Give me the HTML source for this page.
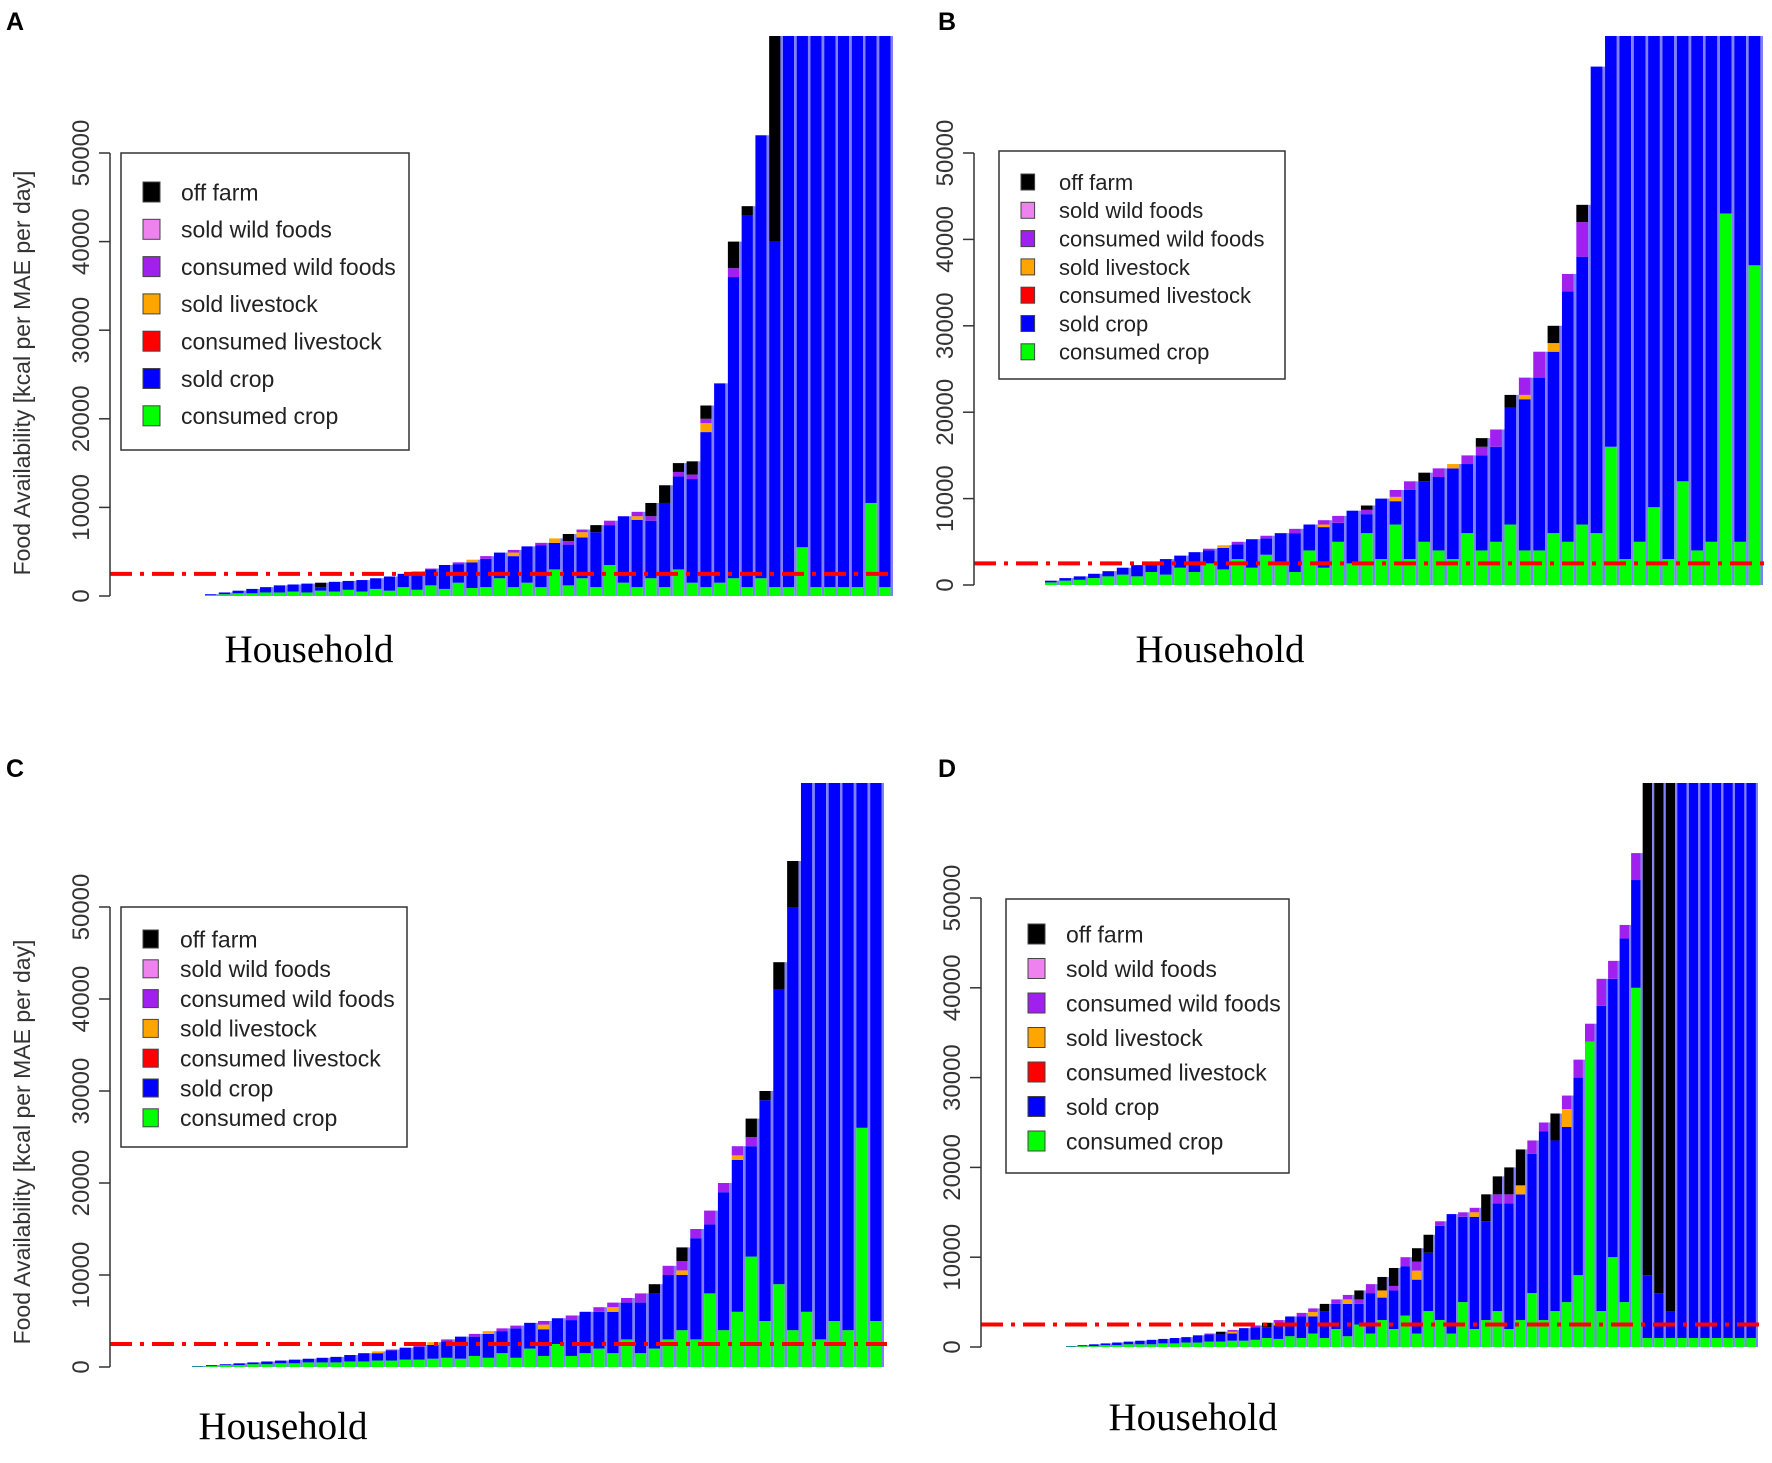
<!DOCTYPE html>
<html><head><meta charset="utf-8"><style>
html,body{margin:0;padding:0;background:#fff}
svg{display:block}
text{font-family:"Liberation Sans",sans-serif}
</style></head><body>
<svg id="fig" width="1772" height="1463" viewBox="0 0 1772 1463" xmlns="http://www.w3.org/2000/svg"></svg>
<script>
// ---- Data (kcal per MAE per day, in thousands), sorted households ----
const A_total=[0.2,0.4,0.6,0.8,1,1.2,1.3,1.4,1.5,1.6,1.7,1.8,2,2.2,2.5,2.8,3.1,3.5,3.8,4.1,4.5,4.9,5.2,5.6,6,6.5,7,7.5,8,8.5,9,9.5,10.5,12.5,15,15.2,21.5,24,40,44,52,70,70,70,70,70,70,70,70,70];
const A_green=[0.1,0.2,0.3,0.3,0.4,0.4,0.5,0.4,0.6,0.5,0.7,0.5,0.8,0.6,1,0.7,1.2,0.8,1.5,0.9,1,2,1,1.5,1,3,1.2,2,1,3.5,1.5,1,2,1,3,1.5,1,1.5,2,1,2,1,1,5.5,1,1,1,1,10.5,1];
const A_black=[0,0,0,0,0,0,0,0,0.5,0,0,0,0,0,0,0,0,0,0,0,0,0,0,0,0,0,0.8,0,0.8,0,0,0,1.5,2,1,1.5,1.5,0,3,1,0,30,0,0,0,0,0,0,0,0];
const A_purple=[0,0,0,0,0,0,0,0,0,0,0,0,0,0,0,0,0.1,0,0.2,0,0.3,0,0.3,0,0.3,0,0.4,0.3,0,0.5,0,0.5,0.5,0,0.5,0.5,0.5,0,1,0,0,0,0,0,0,0,0,0,0,0];
const A_orange=[0,0,0,0,0,0,0,0,0,0,0,0,0,0,0,0.2,0,0,0,0.3,0,0,0.4,0,0,0.5,0,0.6,0,0,0,0.4,0,0,0,0,1,0,0,0,0,0,0,0,0,0,0,0,0,0];

const B_total=[0.5,0.8,1,1.3,1.6,2,2.3,2.7,3,3.4,3.8,4.2,4.6,5,5.3,5.7,6,6.5,7,7.5,8,8.6,9.2,10,11,12,13,13.5,14,15,17,18,22,24,27,30,36,44,60,70,70,70,70,70,70,70,70,70,70,70];
const B_green=[0.3,0.5,0.6,0.8,1,1.2,1,1.5,1.2,2,1.5,2.5,1.8,3,2,3.5,2.5,1.5,4,2,5,2.5,6,3,7,3,5,4,3,6,4,5,7,4,4,6,5,7,6,16,3,5,9,3,12,4,5,43,5,37];
const B_black=[0,0,0,0,0,0,0,0,0,0,0,0,0,0,0,0,0,0,0,0,0,0,0.5,0,0,0,1,0,0,0,1,0,1.5,0,0,2,0,2,0,0,0,0,0,0,0,0,0,0,0,0];
const B_purple=[0,0,0,0,0,0,0,0,0,0,0,0.2,0,0.3,0,0.3,0,0.5,0,0.5,0.8,0,0.5,0,0.8,1,0,1,0,1,1,2,0,2,3,0,2,4,0,0,0,0,0,0,0,0,0,0,0,0];
const B_orange=[0,0,0,0,0,0,0,0,0,0,0,0,0.3,0,0,0,0,0,0,0.3,0,0,0,0,0.5,0,0,0,0.5,0,0,0,0,0.5,0,1,0,0,0,0,0,0,0,0,0,0,0,0,0,0];

const C_total=[0.1,0.2,0.3,0.4,0.5,0.6,0.7,0.8,0.9,1,1.1,1.3,1.5,1.7,1.9,2.1,2.4,2.7,3,3.3,3.6,3.9,4.2,4.5,4.8,5,5.3,5.6,6,6.5,7,7.5,8,9,11,13,15,17,20,24,27,30,44,55,70,70,70,70,70,70];
const C_green=[0.05,0.1,0.2,0.2,0.3,0.3,0.4,0.4,0.5,0.5,0.5,0.6,0.6,0.7,0.7,0.8,0.8,0.9,1,0.9,1.2,1,1.5,1,2,1.2,2.5,1.2,1.5,2,1.5,3,1.5,2,3,4,3,8,4,6,12,5,9,4,6,3,5,4,26,5];
const C_black=[0,0,0,0,0,0,0,0,0,0,0,0,0,0,0,0,0,0,0,0,0,0,0,0,0,0,0,0,0,0,0,0,0,1,0,1.5,0,0,0,0,2,1,3,5,0,0,0,0,0,0];
const C_purple=[0,0,0,0,0,0,0,0,0,0,0,0,0,0,0.1,0,0.2,0,0.2,0,0.3,0,0.3,0.3,0,0.4,0,0.5,0,0.5,0.5,0.5,1,0,1,1,1,1.5,1,1,1,0,0,0,0,0,0,0,0,0];
const C_orange=[0,0,0,0,0,0,0,0,0,0,0,0,0,0.2,0,0,0,0.3,0,0,0,0.3,0,0,0,0.5,0,0,0,0,0.5,0,0,0,0,0.5,0,0,0,0.5,0,0,0,0,0,0,0,0,0,0];

const D_total=[0.1,0.2,0.3,0.4,0.5,0.6,0.7,0.8,0.9,1,1.1,1.3,1.5,1.7,1.9,2.1,2.4,2.7,3,3.4,3.8,4.3,4.8,5.3,5.8,6.3,7,7.8,8.8,10,11,12.5,14,14.8,15,15.5,17,19,20,22,23,25,26,28,32,36,41,43,47,55];
const D_green=[0.05,0.1,0.1,0.2,0.2,0.3,0.3,0.3,0.4,0.4,0.5,0.5,0.6,0.6,0.7,0.7,0.8,1,0.9,1.2,1,1.5,1,2,1.2,2.5,1.5,3,2,3.5,1.5,4,3,1.5,5,2,3,4,2,3,6,3,4,5,8,34,4,10,5,40];
const D_black=[0,0,0,0,0,0,0,0,0,0,0,0,0,0.3,0,0,0,0.5,0,0,0,0,0.8,0,0,1,0,1.5,2,0,1.5,2,0,0,0,0,3,2,3,4,0,0,3,0,0,0,0,0,0,0];
const D_purple=[0,0,0,0,0,0,0,0,0,0,0,0,0.1,0,0.2,0,0.2,0,0.3,0,0.4,0.4,0,0.5,0.5,0.5,1,0,0.5,1,1,0,0.5,0,0.5,0.5,0,1,1,0,1.5,1,0,1.5,2,2,3,2,1.5,3];
const D_orange=[0,0,0,0,0,0,0,0,0,0,0,0,0,0,0.2,0,0,0,0.3,0,0,0.5,0,0,0.5,0,0,0.8,0,0,1,0,0,0,0,0.5,0,0,0,1,0,0,0,2,0,0,0,0,0,0];
const D_tall=[70,70,70,70,70,70,70,70,70,70];
const D_tallBlack=[62,64,66,0,0,0,0,0,0,0];
const D_tallGreen=[1,1,1,1,1,1,1,1,1,1];

const yTicks=[0,10000,20000,30000,40000,50000];
const threshold=2500;
const legendLabels=["off farm","sold wild foods","consumed wild foods","sold livestock","consumed livestock","sold crop","consumed crop"];
const legendColors=["#000000","#ee82ee","#a020f0","#ffa500","#ff0000","#0000ff","#00ff00"];

const NS="http://www.w3.org/2000/svg";
const svg=document.getElementById('fig');
function mk(tag,attrs,parent){const e=document.createElementNS(NS,tag);for(const k in attrs)e.setAttribute(k,attrs[k]);(parent||svg).appendChild(e);return e;}

function drawPanel(p){
  const g=mk('g',{});
  
  
  const y=v=>p.zero-(v/1000)*(p.zero-p.y50)/50;
  const clipId='clip'+p.id;
  const cp=mk('clipPath',{id:clipId},g);
  mk('rect',{x:p.axisX,y:p.top,width:p.right-p.axisX+4,height:p.zero-p.top+1},cp);
  const bars=mk('g',{'clip-path':'url(#'+clipId+')'},g);
  
  
  const n=p.total.length+(p.tall?p.tall.length:0);
  const band=(p.right-p.barStart)/n;
  for(let i=0;i<n;i++){
    let tot,gr,bl,pu,or;
    if(i<p.total.length){tot=p.total[i];gr=p.green[i];bl=p.black[i];pu=p.purple[i];or=p.orange[i];}
    else{const j=i-p.total.length;tot=p.tall[j];gr=p.tallGreen[j];bl=p.tallBlack[j];pu=0;or=0;}
    const x=p.barStart+i*band, w=band*0.82;
    const segs=[["#00ff00",gr],["#0000ff",Math.max(0,tot-gr-bl-pu-or)],["#ffa500",or],["#a020f0",pu],["#000000",bl]];
    let acc=0;
    for(const [c,v] of segs){
      if(v<=0)continue;
      const r=mk('rect',{x:x.toFixed(2),y:y((acc+v)*1000).toFixed(2),width:w.toFixed(2),height:(y(acc*1000)-y((acc+v)*1000)).toFixed(2),fill:c},bars);
      
      
      acc+=v;
    }
    const gap=mk('rect',{x:(x+w).toFixed(2),y:y(tot*1000).toFixed(2),width:(band-w).toFixed(2),height:(p.zero-y(tot*1000)).toFixed(2),fill:"#8080ff"},bars);
    
    
  }
  const th=mk('line',{x1:p.axisX,x2:p.right+3,y1:y(threshold),y2:y(threshold),stroke:"#ff0000","stroke-width":4,"stroke-dasharray":"22 8 4 8"},g);
  
  
  const ax=mk('line',{x1:p.axisX,x2:p.axisX,y1:y(0),y2:y(50000),stroke:"#333","stroke-width":1.5},g);
  
  
  for(const t of yTicks){
    mk('line',{x1:p.axisX-11,x2:p.axisX,y1:y(t),y2:y(t),stroke:"#333","stroke-width":1.5},g);
    const tx=mk('text',{x:0,y:0,transform:`translate(${p.axisX-21},${y(t)}) rotate(-90)`,'text-anchor':'middle','font-size':24,fill:"#333"},g);
    
    
    tx.textContent=String(t);
  }
  const L=p.legend;
  const lr=mk('rect',{x:L.x,y:L.y,width:L.w,height:L.h,fill:"#fff",stroke:"#333","stroke-width":1.5},g);
  
  
  legendLabels.forEach((lab,k)=>{
    const cy=L.row0+k*L.dy;
    const sw=mk('rect',{x:L.x+22,y:cy-L.sq/2,width:L.sq*0.85,height:L.sq,fill:legendColors[k],stroke:"#444","stroke-width":1},g);
    
    
    const tt=mk('text',{x:L.x+L.tx,y:cy+L.fs*0.36,'font-size':L.fs,fill:"#222"},g);
    
    
    tt.textContent=lab;
  });
  const xt=mk('text',{x:p.hhX,y:p.hhY,'text-anchor':'middle','font-size':39,fill:"#000",style:'font-family:"Liberation Serif",serif'},g);
  
  
  xt.textContent="Household";
  const pl=mk('text',{x:p.lx,y:p.ly,'font-size':25,'font-weight':'bold',fill:"#000"},g);
  
  
  pl.textContent=p.id;
  if(p.ylab){
    const yl=mk('text',{x:0,y:0,transform:`translate(30,${p.ylab}) rotate(-90)`,'text-anchor':'middle','font-size':23,fill:"#333"},g);
    
    
    yl.textContent="Food Availability [kcal per MAE per day]";
  }
}

drawPanel({id:'A',axisX:110,zero:596,y50:153,top:36,right:893,barStart:205,total:A_total,green:A_green,black:A_black,purple:A_purple,orange:A_orange,
  legend:{x:121,y:153,w:288,h:297,row0:192,dy:37.3,sq:20,fs:23,tx:60},hhX:309,hhY:662,lx:6,ly:30,ylab:373});
drawPanel({id:'B',axisX:974,zero:585,y50:153,top:36,right:1763,barStart:1045,total:B_total,green:B_green,black:B_black,purple:B_purple,orange:B_orange,
  legend:{x:999,y:151,w:286,h:228,row0:182,dy:28.3,sq:16,fs:22,tx:60},hhX:1220,hhY:662,lx:938,ly:30});
drawPanel({id:'C',axisX:110,zero:1367,y50:907,top:783,right:884,barStart:192,total:C_total,green:C_green,black:C_black,purple:C_purple,orange:C_orange,
  legend:{x:121,y:907,w:286,h:240,row0:939,dy:29.8,sq:18,fs:23,tx:59},hhX:283,hhY:1439,lx:6,ly:777,ylab:1142});
drawPanel({id:'D',axisX:981,zero:1347,y50:898,top:783,right:1758,barStart:1066,total:D_total,green:D_green,black:D_black,purple:D_purple,orange:D_orange,
  tall:D_tall,tallBlack:D_tallBlack,tallGreen:D_tallGreen,
  legend:{x:1006,y:899,w:283,h:274,row0:934,dy:34.5,sq:20,fs:23,tx:60},hhX:1193,hhY:1430,lx:938,ly:777});
</script>
</body></html>
